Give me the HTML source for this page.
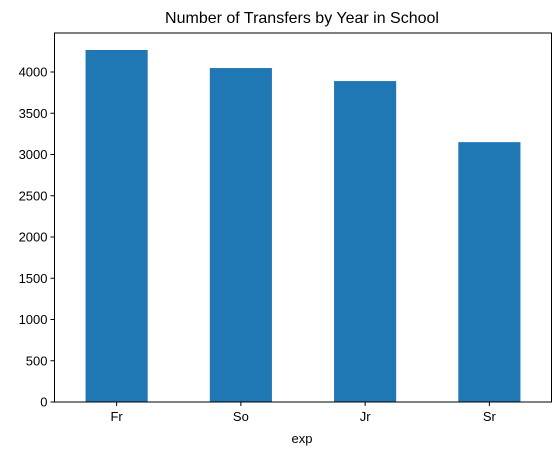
<!DOCTYPE html>
<html><head><meta charset="utf-8"><style>body{margin:0;background:#fff}svg{display:block;font-family:"Liberation Sans","DejaVu Sans",sans-serif}</style></head>
<body>
<svg id="chart" width="560" height="455">
<text x="302" y="23" text-anchor="middle" font-size="16">Number of Transfers by Year in School</text>
<g id="bars"></g><g id="xt"></g><g id="yt"></g>
<rect x="54.5" y="33" width="497" height="369" fill="none" stroke="#000" stroke-width="1"/>
<text x="302" y="443" text-anchor="middle" font-size="13">exp</text>
</svg>
<script>
const categories=["Fr","So","Jr","Sr"];
const values=[4267,4048,3890,3150];
const yTicks=[0,500,1000,1500,2000,2500,3000,3500,4000];
const L=54.5,R=551.5,B=402,T=33,ppu=0.0825;
const ns="http://www.w3.org/2000/svg";
const step=(R-L)/categories.length;
function xS(i){return L+step*(i+0.5);}
function yS(v){return B-v*ppu;}
const bars=document.getElementById('bars'),xt=document.getElementById('xt'),yt=document.getElementById('yt');
categories.forEach((c,i)=>{
 const r=document.createElementNS(ns,'rect');
 r.setAttribute('x',xS(i)-step*0.25);r.setAttribute('width',step*0.5);
 r.setAttribute('y',yS(values[i]));r.setAttribute('height',B-yS(values[i]));r.setAttribute('fill','#1f77b4');
 
 
 bars.appendChild(r);
 const l=document.createElementNS(ns,'line');
 l.setAttribute('x1',xS(i));l.setAttribute('x2',xS(i));l.setAttribute('y1',B);l.setAttribute('y2',B+4);l.setAttribute('stroke','#000');
 xt.appendChild(l);
 const t=document.createElementNS(ns,'text');
 t.setAttribute('x',xS(i));t.setAttribute('y',B+19);t.setAttribute('text-anchor','middle');t.setAttribute('font-size','13');
 
 
 t.textContent=c;xt.appendChild(t);
});
yTicks.forEach(v=>{
 const l=document.createElementNS(ns,'line');
 l.setAttribute('x1',L-4);l.setAttribute('x2',L);l.setAttribute('y1',yS(v));l.setAttribute('y2',yS(v));l.setAttribute('stroke','#000');
 yt.appendChild(l);
 const t=document.createElementNS(ns,'text');
 t.setAttribute('x',L-7);t.setAttribute('y',yS(v)+4.5);t.setAttribute('text-anchor','end');t.setAttribute('font-size','13');
 
 
 t.textContent=v;yt.appendChild(t);
});
</script>
</body></html>
